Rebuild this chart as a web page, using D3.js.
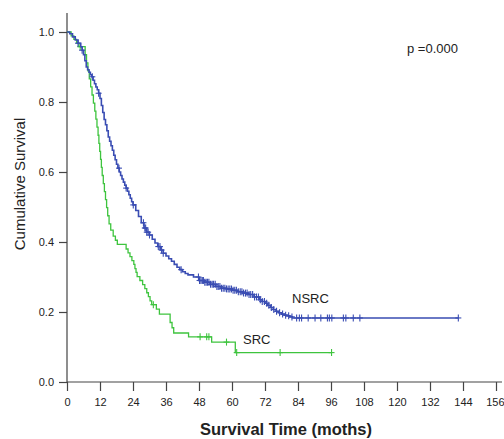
<!DOCTYPE html>
<html><head><meta charset="utf-8">
<script src="https://cdn.jsdelivr.net/npm/d3@7"></script>
<style>
html,body{margin:0;padding:0;background:#fff;}
svg{display:block;font-family:"Liberation Sans",Arial,sans-serif;}
</style></head>
<body>
<svg id="chart" width="504" height="439"></svg>
<script>
// ---------- data ----------
const xTicks = [0,12,24,36,48,60,72,84,96,108,120,132,144,156];
const yTicks = [0,0.2,0.4,0.6,0.8,1.0];
const seriesNames = ["NSRC","SRC"];

const nsrcTime = [0,1,2,3,4,5,5.5,6,6.5,7,7.5,8,8.5,9,9.5,10,10.5,11,11.5,12,12.5,13,13.5,14,14.5,15,15.5,16,16.5,17,17.5,18,18.5,19,19.5,20,20.5,21,21.5,22,22.5,23,23.5,24,25,26,27,28,29,30,31,32,33,34,35,36,37,38,39,40,41,42,43,44,46,48,50,52,54,56,58,60,62,64,66,68,70,71,72,73,74,75,76,77,78,79,80,81,82];
const nsrcSurv = [1.0,0.995,0.986,0.977,0.968,0.958,0.948,0.935,0.918,0.900,0.892,0.885,0.878,0.872,0.862,0.852,0.843,0.835,0.825,0.810,0.790,0.770,0.750,0.735,0.718,0.700,0.688,0.675,0.662,0.648,0.635,0.622,0.611,0.600,0.590,0.580,0.571,0.562,0.554,0.545,0.535,0.525,0.515,0.506,0.490,0.473,0.455,0.440,0.428,0.420,0.408,0.397,0.387,0.377,0.368,0.360,0.352,0.345,0.336,0.328,0.321,0.315,0.310,0.306,0.300,0.290,0.285,0.279,0.273,0.268,0.266,0.262,0.258,0.254,0.250,0.243,0.235,0.230,0.225,0.219,0.213,0.207,0.202,0.198,0.194,0.191,0.189,0.186,0.183];
const nsrcEnd = 142.3;
const nsrcCensor = [4,5.5,9.2,11.5,18.9,21.5,24.1,27.8,28.3,28.6,29,29.5,30,33.2,33.8,34.4,35,41.5,47.8,48.2,48.7,49.2,49.6,50.1,50.6,51.1,51.6,52.2,52.8,53.3,53.9,54.5,55,55.6,56.2,56.8,57.4,58,58.6,59.2,59.8,60.4,61,61.6,62.3,63,63.6,64.2,64.9,65.5,66.2,66.8,67.5,68.2,68.9,69.6,70.3,71,71.8,72.6,73.4,74.3,75.2,76.2,77.3,78.4,79.5,80.6,81.8,83.5,84.5,85.3,87.7,90.2,92.3,94.7,95.4,96.3,100.5,101.4,104.1,106.5,142.3];

const srcTime = [0,1.5,2.5,3.5,4.3,6.6,7.1,7.6,8.1,8.6,9.1,9.6,10.1,10.5,10.9,11.3,11.6,11.9,12.2,12.5,12.8,13.2,13.6,14,14.4,14.8,15.3,15.9,16.8,17.6,18.3,21.5,22.2,22.9,23.6,24.3,24.7,25.1,25.5,26.5,27.5,28.3,29,29.6,30.2,30.8,32.5,33.6,37.5,38.2,38.8,44.2,52.6,61.2];
const srcSurv = [1.0,0.989,0.979,0.968,0.958,0.935,0.912,0.889,0.866,0.843,0.820,0.797,0.774,0.751,0.728,0.705,0.682,0.659,0.636,0.613,0.590,0.567,0.544,0.521,0.498,0.475,0.452,0.434,0.417,0.405,0.393,0.380,0.369,0.358,0.347,0.336,0.324,0.313,0.301,0.290,0.278,0.267,0.255,0.244,0.232,0.221,0.208,0.194,0.170,0.155,0.140,0.129,0.114,0.084];
const srcEnd = 96.2;
const srcCensor = [4.8,31.4,48.4,50.8,51.6,58,61.7,77.5,96.2];

// ---------- chart ----------
const svg = d3.select("#chart");
const x = d3.scaleLinear().domain([0,156]).range([67,496]);
const y = d3.scaleLinear().domain([0,1]).range([382,32]);
const axisColor = "#444";
const colors = {NSRC:"#3a4db3", SRC:"#3ec43e"};

// axes
const gx = svg.append("g").attr("transform","translate(0,382)")
  .call(d3.axisBottom(x).tickValues(xTicks).tickSize(9).tickSizeOuter(0).tickPadding(7).tickFormat(d3.format("d")));
gx.select(".domain").remove();
const gy = svg.append("g").attr("transform","translate(67,0)")
  .call(d3.axisLeft(y).tickValues(yTicks).tickSize(8).tickSizeOuter(0).tickPadding(5).tickFormat(d3.format(".1f")));
gy.select(".domain").remove();
[gx,gy].forEach(g=>{
  g.selectAll("line").attr("stroke",axisColor).attr("stroke-width",1.2);
  g.selectAll("text").attr("fill","#222").style("font-size","11px").style("font-family","'Liberation Sans',Arial,sans-serif");
});
// keep the last x label inside the frame
gx.selectAll(".tick").filter(d=>d===156).select("text").attr("text-anchor","end").attr("x",8);
svg.append("line").attr("x1",67).attr("x2",502).attr("y1",382).attr("y2",382).attr("stroke",axisColor).attr("stroke-width",1.2);
svg.append("line").attr("x1",67).attr("x2",67).attr("y1",13).attr("y2",382).attr("stroke",axisColor).attr("stroke-width",1.2);

function stepValue(times, survs, t){
  const i = d3.bisectRight(times, t) - 1;
  return survs[Math.max(0,i)];
}
function drawSeries(name, times, survs, endT, censors, width){
  const pts = times.map((t,i)=>[t,survs[i]]);
  pts.push([endT, survs[survs.length-1]]);
  const line = d3.line().x(d=>x(d[0])).y(d=>y(d[1])).curve(d3.curveStepAfter);
  svg.append("path").datum(pts).attr("d",line).attr("fill","none")
    .attr("stroke",colors[name]).attr("stroke-width",width);
  const g = svg.append("g").attr("stroke",colors[name]).attr("stroke-width",1.1);
  censors.forEach(c=>{
    const cx = x(c), cy = y(stepValue(times, survs, c));
    g.append("line").attr("x1",cx).attr("x2",cx).attr("y1",cy-3.5).attr("y2",cy+3.5);
    g.append("line").attr("x1",cx-3).attr("x2",cx+3).attr("y1",cy).attr("y2",cy);
  });
}
drawSeries("SRC", srcTime, srcSurv, srcEnd, srcCensor, 1.3);
drawSeries("NSRC", nsrcTime, nsrcSurv, nsrcEnd, nsrcCensor, 1.6);

// labels
const lbl = (txt, px, py, opts={}) => svg.append("text").attr("x",px).attr("y",py).text(txt)
  .attr("fill", opts.fill||"#222").style("font-size",(opts.size||13)+"px")
  .style("font-weight",opts.weight||"normal").attr("text-anchor",opts.anchor||"start");
lbl(seriesNames[0], 292, 303);
lbl(seriesNames[1], 243, 344);
lbl("p =0.000", 407, 53);
lbl("Survival Time (moths)", 286, 435, {size:16.5, weight:"bold", anchor:"middle"});
svg.append("text").attr("transform","translate(25,184) rotate(-90)").attr("text-anchor","middle")
  .attr("fill","#222").style("font-size","15px").text("Cumulative Survival");
</script>
</body></html>
